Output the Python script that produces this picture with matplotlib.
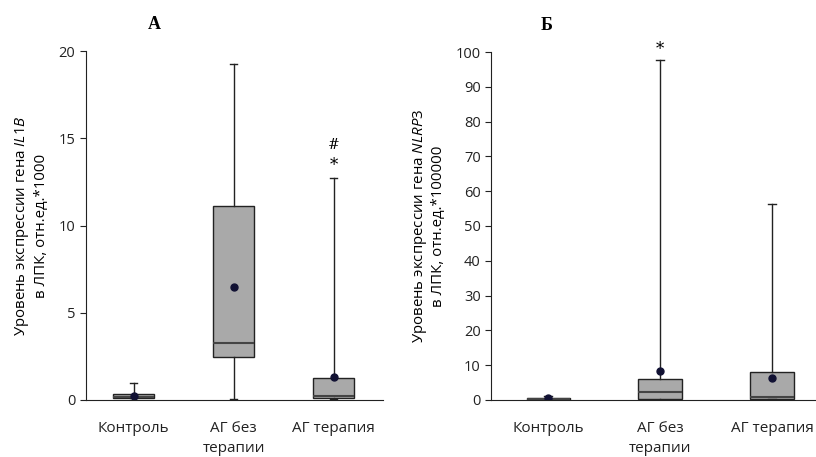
import matplotlib
matplotlib.use("Agg")
import matplotlib.pyplot as plt

plt.rcParams["font.family"] = ["Open Sans", "DejaVu Sans"]
plt.rcParams["mathtext.fontset"] = "custom"
plt.rcParams["mathtext.it"] = "Open Sans:italic"
plt.rcParams["mathtext.rm"] = "Open Sans"

GROUPS = ["Контроль", "АГ без\nтерапии", "АГ терапия"]

# panel A: IL1B, отн.ед.*1000
A_WLO = [0.0, 0.05, 0.05]
A_Q1 = [0.1, 2.45, 0.1]
A_MED = [0.15, 3.25, 0.2]
A_Q3 = [0.35, 11.1, 1.25]
A_WHI = [0.97, 19.25, 12.7]
A_MEAN = [0.25, 6.45, 1.3]

# panel Б: NLRP3, отн.ед.*100000
B_WLO = [0.0, 0.1, 0.2]
B_Q1 = [0.0, 0.2, 0.3]
B_MED = [0.2, 2.3, 0.7]
B_Q3 = [0.4, 6.0, 8.0]
B_WHI = [1.0, 97.8, 56.2]
B_MEAN = [0.6, 8.2, 6.2]

GRAY = "#a9a9a9"


def stats(wlo, q1, med, q3, whi, mean):
    return [dict(whislo=a, q1=b, med=c, q3=d, whishi=e, mean=f)
            for a, b, c, d, e, f in zip(wlo, q1, med, q3, whi, mean)]


def draw(ax, st, width):
    ax.bxp(st, positions=[1, 2, 3], widths=width, patch_artist=True, showmeans=True,
           showfliers=False,
           boxprops=dict(facecolor=GRAY, edgecolor="#222222", lw=1.0),
           medianprops=dict(color="#444444", lw=1.5),
           whiskerprops=dict(color="#222222", lw=1.0),
           capprops=dict(color="#222222", lw=1.0),
           capwidths=0.07,
           meanprops=dict(marker="o", markerfacecolor="#111133", markeredgecolor="#111133",
                          markersize=5))
    for s in ["top", "right"]:
        ax.spines[s].set_visible(False)
    ax.spines["left"].set_color("#222222")
    ax.spines["bottom"].set_color("#222222")
    ax.tick_params(axis="x", length=0, pad=15, labelsize=11, colors="#222222")
    ax.tick_params(axis="y", length=4, labelsize=10.5, colors="#222222")
    ax.set_xticks([1, 2, 3])
    ax.set_xticklabels(GROUPS, linespacing=1.45)


fig = plt.figure(figsize=(8.16, 4.57), dpi=100)

ax1 = fig.add_axes([0.105, 0.125, 0.364, 0.763])
draw(ax1, stats(A_WLO, A_Q1, A_MED, A_Q3, A_WHI, A_MEAN), 0.41)
ax1.set_xlim(0.52, 3.49)
ax1.set_ylim(0, 20)
ax1.set_yticks([0, 5, 10, 15, 20])
ax1.set_ylabel("Уровень экспрессии гена $\\mathit{IL1B}$\nв ЛПК, отн.ед.*1000",
               fontsize=10.8, labelpad=7, linespacing=1.2)
ax1.text(3, 13.45, "*", ha="center", va="center", fontsize=12, family="DejaVu Serif")
ax1.text(3, 14.6, "#", ha="center", va="center", fontsize=10, family="DejaVu Serif")
ax1.set_title("А", fontsize=13, fontweight="bold", family="Liberation Serif",
              x=0.23, y=1.04)

ax2 = fig.add_axes([0.602, 0.125, 0.398, 0.761])
draw(ax2, stats(B_WLO, B_Q1, B_MED, B_Q3, B_WHI, B_MEAN), 0.39)
ax2.set_xlim(0.49, 3.39)
ax2.set_ylim(0, 100)
ax2.set_yticks(range(0, 101, 10))
ax2.set_ylabel("Уровень экспрессии гена $\\mathit{NLRP3}$\nв ЛПК, отн.ед.*100000",
               fontsize=10.8, labelpad=7, linespacing=1.2)
ax2.text(2, 100.8, "*", ha="center", va="center", fontsize=12, family="DejaVu Serif")
ax2.set_title("Б", fontsize=13, fontweight="bold", family="Liberation Serif",
              x=0.17, y=1.04)

fig.savefig("out.png", dpi=100)
